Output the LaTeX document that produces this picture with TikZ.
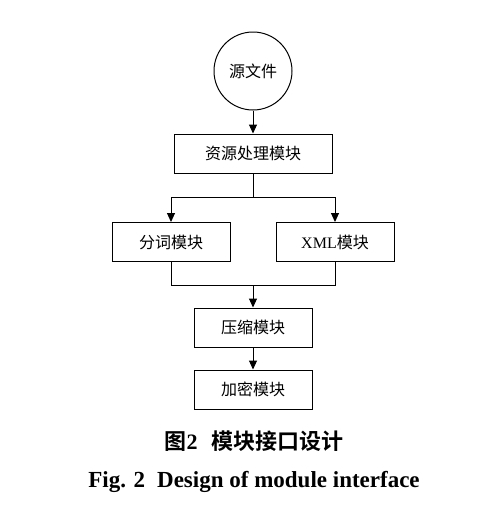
\documentclass[tikz,border=0pt]{standalone}
\usepackage{fontspec}
\setmainfont{Liberation Serif}
\newfontfamily\cjk{Noto Sans CJK SC}
\newfontfamily\cjkb{Noto Sans CJK SC Bold}
\usetikzlibrary{arrows.meta}
\begin{document}
\begin{tikzpicture}[x=1pt,y=-1pt,
  mod/.style={draw,line width=1pt,minimum width=118pt,minimum height=39pt,inner sep=0pt,font=\fontsize{16}{16}\selectfont\cjk},
  src/.style={draw,circle,line width=1pt,minimum size=78pt,inner sep=0pt,font=\fontsize{16}{16}\selectfont\cjk},
  conn/.style={line width=1pt},
  arr/.style={line width=1pt,-{Triangle[length=9pt,width=8pt]}}]
\useasboundingbox (0,0) rectangle (500,509);
\node[src] (s) at (253,71) {源文件};
\node[mod,minimum width=158pt] (r) at (253,153.5) {资源处理模块};
\node[mod] (f) at (171,242) {分词模块};
\node[mod] (x) at (335,242) {{\fontsize{16}{16}\selectfont\rmfamily XML}模块};
\node[mod] (c) at (253,327.5) {压缩模块};
\node[mod] (e) at (253,389.5) {加密模块};
\coordinate (j1) at (253,197);
\coordinate (j2) at (253,285);
\draw[arr] (s) -- (r);
\draw[conn] (r) -- (j1);
\draw[arr] (j1) -| (f);
\draw[arr] (j1) -| (x);
\draw[conn] (f) |- (j2);
\draw[conn] (x) |- (j2);
\draw[arr] (j2) -- (c);
\draw[arr] (c) -- (e);
\node[font=\fontsize{22}{22}\selectfont\cjkb] (cap1) at (254,441) {图{\bfseries\rmfamily 2}\hspace{14pt}模块接口设计};
\node[font=\fontsize{23}{23}\selectfont\bfseries] (cap2) at (254,482) {Fig. 2\hspace{12pt}Design of module interface};
\end{tikzpicture}
\end{document}
